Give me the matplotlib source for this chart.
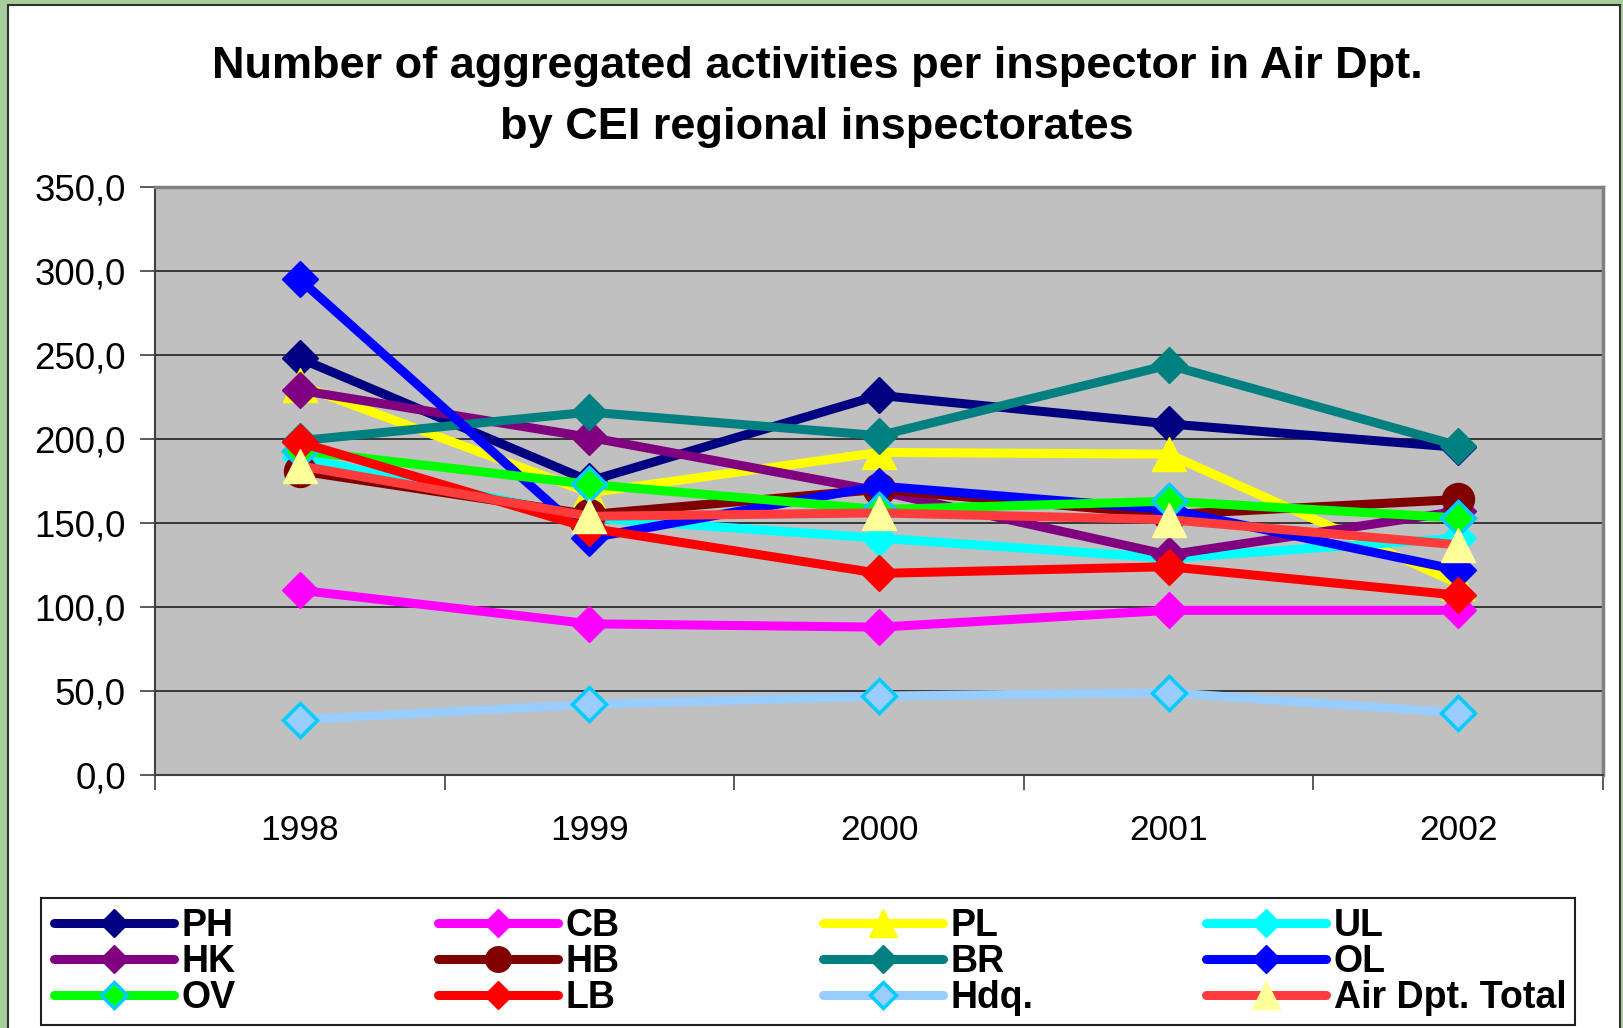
import matplotlib
matplotlib.use("Agg")
import matplotlib.pyplot as plt
from matplotlib.patches import Rectangle

# ---- data ----
years = ["1998", "1999", "2000", "2001", "2002"]
PH = [248, 175, 226, 209, 195]
CB = [110, 90, 88, 98, 98]
PL = [232, 168, 192, 191, 114]
UL = [189, 153, 141, 129, 141]
HK = [229, 201, 169, 131, 157]
HB = [181, 155, 170, 155, 164]
BR = [199, 216, 202, 244, 196]
OL = [295, 141, 172, 158, 122]
OV = [193, 173, 158, 163, 153]
LB = [198, 147, 120, 124, 107]
HDQ = [33, 42, 47, 49, 37]
TOTAL = [184, 154, 156, 152, 137]

series_names = ["PH", "CB", "PL", "UL", "HK", "HB", "BR", "OL", "OV", "LB", "Hdq.", "Air Dpt. Total"]
series_values = [PH, CB, PL, UL, HK, HB, BR, OL, OV, LB, HDQ, TOTAL]

y_ticks = [0, 50, 100, 150, 200, 250, 300, 350]
y_tick_labels = ["0,0", "50,0", "100,0", "150,0", "200,0", "250,0", "300,0", "350,0"]

title = "Number of aggregated activities per inspector in Air Dpt.\nby CEI regional inspectorates"

# ---- styles ----
styles = {
    "PH": dict(color="#000080", marker="D", ms=18, mfc="#000080", mec="#000080"),
    "CB": dict(color="#FF00FF", marker="D", ms=18, mfc="#FF00FF", mec="#FF00FF"),
    "PL": dict(color="#FFFF00", marker="^", ms=25, mfc="#FFFF00", mec="#FFFF00"),
    "UL": dict(color="#00FFFF", marker="D", ms=18, mfc="#00FFFF", mec="#00FFFF"),
    "HK": dict(color="#800080", marker="D", ms=18, mfc="#800080", mec="#800080"),
    "HB": dict(color="#800000", marker="o", ms=23, mfc="#800000", mec="#800000"),
    "BR": dict(color="#008080", marker="D", ms=18, mfc="#008080", mec="#008080"),
    "OL": dict(color="#0000FF", marker="D", ms=18, mfc="#0000FF", mec="#0000FF"),
    "OV": dict(color="#00FF00", marker="D", ms=17, mfc="#00FF00", mec="#00CCFF", mew=2.5),
    "LB": dict(color="#FF0000", marker="D", ms=18, mfc="#FF0000", mec="#FF0000"),
    "Hdq.": dict(color="#99CCFF", marker="D", ms=17, mfc="#99CCFF", mec="#00CCFF", mew=2.5),
    "Air Dpt. Total": dict(color="#FF3C3C", marker="^", ms=25, mfc="#FFFF99", mec="#FFFF99"),
}

plt.rcParams["font.family"] = ["Liberation Sans", "DejaVu Sans"]

W, H = 1623, 1028
fig = plt.figure(figsize=(W / 100, H / 100), dpi=100)
fig.patch.set_facecolor("#A9CC9B")

# white chart area
fig.patches.append(Rectangle((8 / W, -0.02), (1620 - 8) / W, 1 - 5 / H + 0.02,
                             transform=fig.transFigure, facecolor="white",
                             edgecolor="#303030", linewidth=1.5, zorder=-5))

ax = fig.add_axes([155 / W, 1 - 775 / H, (1603 - 155) / W, (775 - 187) / H])
ax.set_zorder(2)
ax.set_facecolor("#C0C0C0")

x = list(range(len(years)))
handles = {}
for name, vals in zip(series_names, series_values):
    st = dict(styles[name])
    mew = st.pop("mew", 1.0)
    ln, = ax.plot(x, vals, linewidth=6.5, solid_capstyle="round", solid_joinstyle="round",
                  markeredgewidth=mew, label=name, **st)
    handles[name] = ln

ax.set_xlim(-0.5, len(years) - 0.5)
ax.set_ylim(0, 350)
ax.set_yticks(y_ticks)
ax.set_yticklabels(y_tick_labels, fontsize=26.5)
ax.tick_params(axis="y", direction="out", length=11, width=1.2, pad=10, color="#404040")
ax.yaxis.grid(True, color="#202020", linewidth=1.2)
ax.set_axisbelow(True)

ax.set_xticks([i - 0.5 for i in range(len(years) + 1)])
ax.set_xticklabels([])
ax.set_xticks(x, minor=True)
ax.set_xticklabels(years, minor=True, fontsize=25.5)
ax.tick_params(axis="x", which="major", direction="out", length=11, width=1.2, color="#404040")
ax.tick_params(axis="x", which="minor", length=0, pad=28)

for s in ["left", "bottom"]:
    ax.spines[s].set_color("#404040")
    ax.spines[s].set_linewidth(1.5)
for s in ["top", "right"]:
    ax.spines[s].set_color("#808080")
    ax.spines[s].set_linewidth(2.5)

fig.text(817 / W, 1 - 97 / H, title, ha="center", va="center", fontsize=32.5,
         fontweight="bold", linespacing=1.6)

# legend box
fig.patches.append(Rectangle((41 / W, 1 - 1025 / H), (1575 - 41) / W, (1025 - 898) / H,
                             transform=fig.transFigure, facecolor="white",
                             edgecolor="#202020", linewidth=1.5, zorder=1))

columns = [["PH", "HK", "OV"], ["CB", "HB", "LB"], ["PL", "BR", "Hdq."], ["UL", "OL", "Air Dpt. Total"]]
col_x = [54, 438, 823, 1206]
for cx, names in zip(col_x, columns):
    leg = fig.legend([handles[n] for n in names], names, loc="upper left",
                     bbox_to_anchor=(cx / W, 1 - 908 / H), frameon=False,
                     borderpad=0, borderaxespad=0, handlelength=3.2, handletextpad=0.2,
                     labelspacing=0.0, markerscale=0.8,
                     prop=dict(family="Liberation Sans", weight="bold", size=27))
    leg.set_zorder(3)

fig.savefig("out.png", dpi=100, facecolor=fig.get_facecolor())
